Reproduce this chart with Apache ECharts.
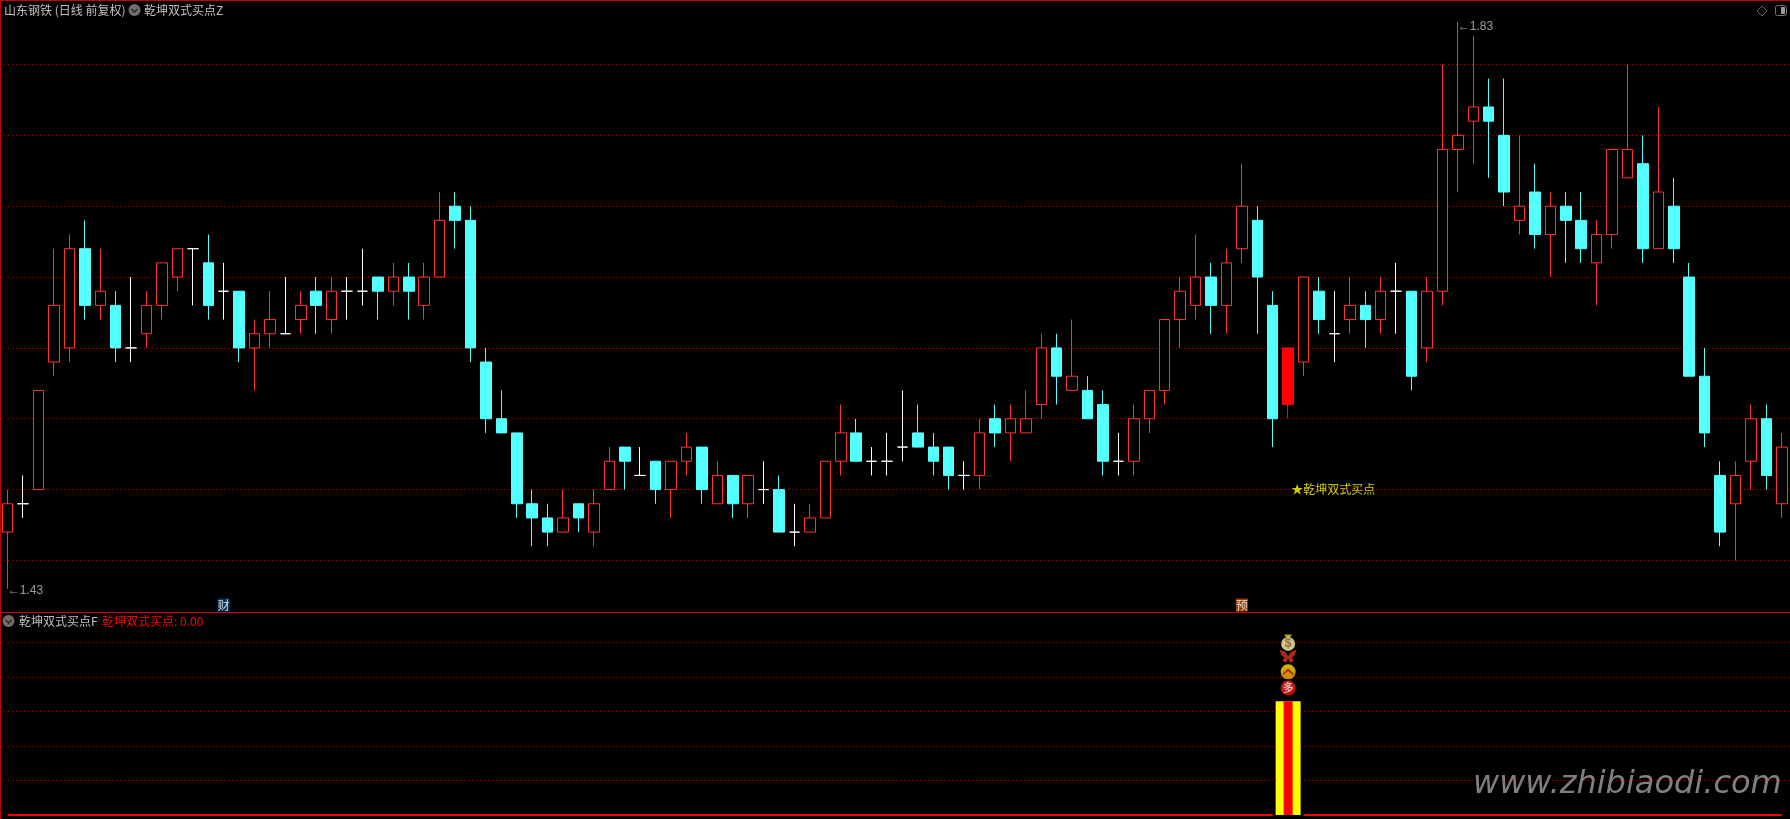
<!DOCTYPE html>
<html>
<head>
<meta charset="utf-8">
<title>乾坤双式买点</title>
<style>
html,body{margin:0;padding:0;background:#000;}
#dataView{width:1790px;height:819px;}
</style>
<script src="https://cdn.jsdelivr.net/npm/echarts@6/dist/echarts.min.js"></script>
</head>
<body>
<div id="dataView"></div>
<script>
// 日线数据 (从图上读取,单位元)
var opens = [1.47,1.49,1.50,1.59,1.60,1.67,1.63,1.63,1.60,1.61,1.63,1.65,1.67,1.66,1.64,1.64,1.60,1.61,1.61,1.62,
	1.64,1.62,1.64,1.64,1.65,1.64,1.65,1.63,1.65,1.70,1.69,1.59,1.55,1.54,1.49,1.48,1.47,1.49,1.47,1.50,
	1.53,1.51,1.52,1.50,1.52,1.53,1.49,1.51,1.49,1.50,1.50,1.47,1.47,1.48,1.52,1.54,1.52,1.52,1.53,1.54,
	1.53,1.53,1.51,1.51,1.55,1.54,1.54,1.56,1.60,1.57,1.57,1.56,1.52,1.52,1.55,1.57,1.62,1.63,1.65,1.63,
	1.67,1.69,1.63,1.56,1.59,1.64,1.61,1.62,1.63,1.62,1.64,1.64,1.60,1.64,1.74,1.76,1.77,1.75,1.69,1.71,
	1.68,1.70,1.69,1.66,1.68,1.72,1.73,1.67,1.70,1.65,1.58,1.51,1.49,1.52,1.55,1.49];
var closes = [1.49,1.49,1.57,1.63,1.67,1.63,1.64,1.60,1.60,1.63,1.66,1.67,1.67,1.63,1.64,1.60,1.61,1.62,1.61,1.63,
	1.63,1.64,1.64,1.64,1.64,1.65,1.64,1.65,1.69,1.69,1.60,1.55,1.54,1.49,1.48,1.47,1.48,1.48,1.49,1.52,
	1.52,1.51,1.50,1.52,1.53,1.50,1.51,1.49,1.51,1.50,1.47,1.47,1.48,1.52,1.54,1.52,1.52,1.52,1.53,1.53,
	1.52,1.51,1.51,1.54,1.54,1.55,1.55,1.60,1.58,1.58,1.55,1.52,1.52,1.55,1.57,1.62,1.64,1.65,1.63,1.66,
	1.70,1.65,1.55,1.60,1.65,1.62,1.61,1.63,1.62,1.64,1.64,1.58,1.64,1.74,1.75,1.77,1.76,1.71,1.70,1.68,
	1.70,1.69,1.67,1.68,1.74,1.74,1.67,1.71,1.67,1.58,1.54,1.47,1.51,1.55,1.51,1.53];
var lows = [1.43,1.48,1.50,1.58,1.59,1.62,1.62,1.59,1.59,1.60,1.62,1.64,1.63,1.62,1.62,1.59,1.57,1.60,1.61,1.61,
	1.61,1.61,1.62,1.63,1.62,1.63,1.62,1.62,1.65,1.67,1.59,1.54,1.54,1.48,1.46,1.46,1.47,1.47,1.46,1.50,
	1.50,1.51,1.49,1.48,1.51,1.49,1.49,1.48,1.48,1.49,1.47,1.46,1.47,1.48,1.51,1.52,1.51,1.51,1.52,1.53,
	1.51,1.50,1.50,1.50,1.53,1.52,1.54,1.55,1.56,1.57,1.55,1.51,1.51,1.51,1.54,1.56,1.60,1.62,1.61,1.61,
	1.66,1.61,1.53,1.55,1.58,1.61,1.59,1.61,1.60,1.61,1.61,1.57,1.59,1.63,1.71,1.73,1.72,1.70,1.68,1.67,
	1.65,1.66,1.66,1.63,1.67,1.72,1.66,1.67,1.66,1.58,1.53,1.46,1.45,1.50,1.50,1.48];
var highs = [1.50,1.51,1.57,1.67,1.68,1.69,1.67,1.64,1.65,1.64,1.66,1.67,1.67,1.68,1.66,1.64,1.62,1.64,1.65,1.64,
	1.65,1.65,1.65,1.67,1.65,1.66,1.66,1.66,1.71,1.71,1.70,1.60,1.57,1.54,1.50,1.49,1.50,1.49,1.50,1.53,
	1.53,1.53,1.52,1.52,1.54,1.53,1.52,1.51,1.51,1.52,1.51,1.49,1.49,1.52,1.56,1.55,1.53,1.54,1.57,1.56,
	1.54,1.53,1.52,1.55,1.56,1.56,1.57,1.61,1.61,1.62,1.58,1.57,1.54,1.56,1.57,1.62,1.65,1.68,1.66,1.67,
	1.73,1.70,1.64,1.60,1.65,1.65,1.64,1.65,1.64,1.65,1.66,1.64,1.65,1.80,1.83,1.82,1.79,1.79,1.75,1.73,
	1.71,1.71,1.71,1.69,1.74,1.80,1.75,1.77,1.72,1.66,1.60,1.52,1.52,1.56,1.56,1.54];

// 信号所在的K线
var signalIndex = 83;
var signalLabel = '★乾坤双式买点';
var signalLabelPrice = 1.50;
var signalBarValue = 3.3;
var highIndex = 94;
var highPrice = 1.83;
var lowIndex = 0;
var lowPrice = 1.43;
var caiIndex = 14;
var yuIndex = 80;
var tagPrice = 1.42;
// 副图图标高度
var iconDuo = 3.68;
var iconUp = 4.15;
var iconFly = 4.6;
var iconBag = 4.96;
var iconBagTop = 5.16;

var days = [];
var kData = [];
var zeroLine = [];
opens.forEach(function(o, i) {
	days.push(String(i));
	var item = {value: [o, closes[i], lows[i], highs[i]]};
	if (i == signalIndex) {
		item.itemStyle = {color: '#ff0000', borderColor: '#ff0000'};
	}
	kData.push(item);
	zeroLine.push(i == signalIndex ? null : 0);
});

var grayText = '#c0c0c0';
var textFont = '"Noto Sans CJK SC", sans-serif';
var gridDots = {show: true, showMinLine: false, showMaxLine: false,
	lineStyle: {color: '#a80000', width: 1, type: [1, 3]}};

function hiddenX(gridIndex) {
	return {type: 'category', gridIndex: gridIndex, data: days, show: false, boundaryGap: true};
}
function roundIcon(x, y) {
	return [
		{type: 'circle', shape: {cx: x, cy: y, r: 6}, style: {fill: '#6e6e6e'}, silent: true},
		{type: 'polyline', shape: {points: [[x - 3, y - 1], [x, y + 2], [x + 3, y - 1]]},
			style: {stroke: '#2a2a2a', lineWidth: 1.5, fill: null}, silent: true}
	];
}
function headText(x, y, text, color) {
	return {type: 'text', x: x, y: y, silent: true,
		style: {text: text, fill: color, font: '12px ' + textFont, textVerticalAlign: 'middle'}};
}

var dataViewcharts = echarts.init(document.getElementById('dataView'));
var dataViewoption = {
	animation: false,
	backgroundColor: '#000',
	grid: [
		{left: -0.5, width: 1790, top: 7.8, height: 623.5},
		{left: -0.5, width: 1790, top: 608, height: 207}
	],
	xAxis: [hiddenX(0), hiddenX(1), hiddenX(1), hiddenX(1)],
	yAxis: [
		{type: 'value', gridIndex: 0, min: 1.40, max: 1.84, interval: 0.05, scale: true,
			axisLine: {show: false}, axisTick: {show: false}, axisLabel: {show: false}, splitLine: gridDots},
		{type: 'value', gridIndex: 1, min: 0, max: 6, interval: 1,
			axisLine: {show: false}, axisTick: {show: false}, axisLabel: {show: false}, splitLine: gridDots}
	],
	series: [
		{
			name: '日线',
			type: 'candlestick',
			xAxisIndex: 0,
			yAxisIndex: 0,
			barWidth: 11,
			data: kData,
			itemStyle: {
				color: '#000',
				color0: '#54ffff',
				borderColor: '#ff3232',
				borderColor0: '#54ffff',
				borderColorDoji: '#ffffff',
				borderWidth: 1
			},
			z: 3
		},
		{
			name: '标注',
			type: 'scatter',
			xAxisIndex: 0,
			yAxisIndex: 0,
			symbolSize: 0,
			silent: true,
			z: 5,
			data: [
				{value: [highIndex, highPrice], label: {show: true, formatter: '←' + highPrice.toFixed(2), position: 'right',
					distance: 0, offset: [0, 5], color: grayText, fontSize: 12, fontFamily: 'Liberation Sans'}},
				{value: [lowIndex, lowPrice], label: {show: true, formatter: '←' + lowPrice.toFixed(2), position: 'right',
					distance: 0, offset: [0, 2], color: grayText, fontSize: 12, fontFamily: 'Liberation Sans'}},
				{value: [signalIndex, signalLabelPrice], label: {show: true, formatter: signalLabel, position: 'right',
					distance: 3, color: '#ffff00', fontSize: 12, fontFamily: textFont}},
				{value: [caiIndex, tagPrice], label: {show: true, formatter: '财', position: 'inside', offset: [0, 2],
					color: '#fff', fontSize: 12, fontFamily: textFont, backgroundColor: '#0a3c72', padding: [0, 0], lineHeight: 13}},
				{value: [yuIndex, tagPrice], label: {show: true, formatter: '预', position: 'inside', offset: [0, 2],
					color: '#fff', fontSize: 12, fontFamily: textFont, backgroundColor: '#b8480e', padding: [0, 0], lineHeight: 13}}
			]
		},
		{
			name: '零轴',
			type: 'line',
			xAxisIndex: 1,
			yAxisIndex: 1,
			data: zeroLine,
			showSymbol: false,
			connectNulls: false,
			clip: false,
			lineStyle: {color: '#ff0000', width: 2},
			z: 3
		},
		{
			name: '信号外',
			type: 'bar',
			xAxisIndex: 2,
			yAxisIndex: 1,
			barWidth: 25,
			data: [[signalIndex, signalBarValue]],
			itemStyle: {color: '#ffff00'},
			z: 4
		},
		{
			name: '信号内',
			type: 'bar',
			xAxisIndex: 3,
			yAxisIndex: 1,
			barWidth: 9,
			data: [[signalIndex, signalBarValue]],
			itemStyle: {color: '#ff0000'},
			z: 5
		},
		{
			name: '图标',
			type: 'scatter',
			xAxisIndex: 1,
			yAxisIndex: 1,
			silent: true,
			z: 6,
			data: [
				{value: [signalIndex, iconDuo], symbol: 'circle', symbolSize: 15,
					itemStyle: {color: new echarts.graphic.RadialGradient(0.5, 0.4, 0.6, [
						{offset: 0, color: '#ff5a50'}, {offset: 1, color: '#e80000'}])},
					label: {show: true, formatter: '多', position: 'inside', color: '#fff', fontSize: 11, fontFamily: textFont}},
				{value: [signalIndex, iconUp], symbol: 'circle', symbolSize: 15,
					itemStyle: {color: new echarts.graphic.LinearGradient(0, 0, 0, 1, [
						{offset: 0, color: '#fff000'}, {offset: 1, color: '#ff9a18'}])}},
				{value: [signalIndex, iconUp], symbol: 'path://M0 8 L8 0 L16 8 L16 11 L8 5 L0 11Z', symbolSize: [11, 7],
					itemStyle: {color: '#b01808'}},
				{value: [signalIndex, iconFly], symbol: 'path://M0 1 L6 3 L9 8 L12 3 L18 1 L16 7 L13 9 L15 13 L11 15 L9 10 L7 15 L3 13 L5 9 L2 7Z',
					symbolSize: [17, 13], itemStyle: {color: '#d8341c'}},
				{value: [signalIndex, iconBagTop], symbol: 'triangle', symbolSize: [8, 5], symbolRotate: 180,
					itemStyle: {color: '#f0d020'}},
				{value: [signalIndex, iconBag], symbol: 'circle', symbolSize: 14,
					itemStyle: {color: '#fff8a0'},
					label: {show: true, formatter: '$', position: 'inside', color: '#7a5040', fontSize: 12, fontWeight: 'bold',
						fontFamily: 'Liberation Sans'}}
			]
		}
	],
	graphic: [
		{type: 'rect', shape: {x: 0, y: 0, width: 1790, height: 1}, style: {fill: '#c00000'}, silent: true},
		{type: 'rect', shape: {x: 0, y: 0, width: 1, height: 819}, style: {fill: '#c00000'}, silent: true},
		{type: 'rect', shape: {x: 0, y: 612, width: 1790, height: 1}, style: {fill: '#d80000'}, silent: true},
		headText(4, 10, '山东钢铁 (日线 前复权)', grayText),
		headText(144, 10, '乾坤双式买点Z', grayText),
		headText(19, 621, '乾坤双式买点F', grayText),
		headText(102, 621, '乾坤双式买点: 0.00', '#ff0000'),
		{type: 'polygon', shape: {points: [[1762, 6], [1767, 11], [1762, 16], [1757, 11]]},
			style: {stroke: '#666', fill: null, lineWidth: 1}, silent: true},
		{type: 'rect', shape: {x: 1775.5, y: 5.5, width: 11, height: 10, r: 2},
			style: {stroke: '#777', fill: null, lineWidth: 1}, silent: true},
		{type: 'rect', shape: {x: 1781, y: 7, width: 4, height: 7}, style: {fill: '#999'}, silent: true},
		{type: 'text', x: 1473, y: 785, silent: true, z: 10,
			style: {text: 'www.zhibiaodi.com', fill: '#808080', font: 'italic 32px "DejaVu Sans", sans-serif',
				textVerticalAlign: 'middle', shadowColor: '#444', shadowBlur: 6, shadowOffsetY: 2}}
	].concat(roundIcon(134.5, 10), roundIcon(8.5, 621))
};
dataViewcharts.setOption(dataViewoption);
</script>
</body>
</html>
